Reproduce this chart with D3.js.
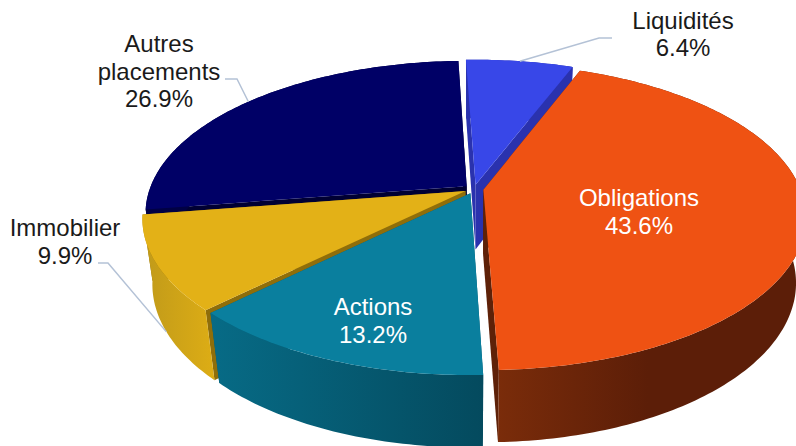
<!DOCTYPE html>
<html lang="fr">
<head>
<meta charset="utf-8">
<script src="https://cdn.jsdelivr.net/npm/d3@7/dist/d3.min.js"></script>
<style>
  html, body { margin: 0; padding: 0; background: #fff; overflow: hidden; }
  svg { display: block; }
  text { font-family: "Liberation Sans", Arial, sans-serif; font-size: 24px; text-anchor: middle; }
</style>
</head>
<body>
<svg id="chart" width="796" height="446"></svg>
<script>
// Portfolio allocation, clockwise from the top of the pie
const categories = ["Liquidités", "Obligations", "Actions", "Immobilier", "Autres placements"];
const shares = [6.4, 43.6, 13.2, 9.9, 26.9];

const categoryLines = [["Liquidités"], ["Obligations"], ["Actions"], ["Immobilier"], ["Autres", "placements"]];
const topColors = ["#3847E8", "#EF5213", "#0A7F9E", "#E3B117", "#000066"];
const faceColors = ["#2A32AE", "#5E2108", "#055A70", "#8F6E0A", "#000033"];
const wallStart = ["#2A32AE", "#7A2C0A", "#076B86", "#C09A1A", "#000044"];
const wallEnd = ["#2A32AE", "#5C1E08", "#044A5E", "#DDAD15", "#000044"];
const textColors = ["#1a1a1a", "#ffffff", "#ffffff", "#1a1a1a", "#1a1a1a"];

// Perspective camera: a unit disc tilted away from the viewer, extruded along Z
const view = { cx: 474, cy: 189, ax: 317, ay: 148.3, persp: 0.176, depth: 67, shrink: 0.03, explode: 0.03 };

function project(x, y, z) {
  const w = 1 - view.persp * y + view.shrink * z;
  return [view.cx + view.ax * x / w, view.cy + (view.ay * y + view.depth * z) / w];
}

// Pie layout starts just left of twelve o'clock and keeps the data order
const startAngle = -2 * Math.PI / 180;
const arcs = d3.pie().sort(null).startAngle(startAngle).endAngle(startAngle + 2 * Math.PI)(shares);

const svg = d3.select("#chart");
const defs = svg.append("defs");
const line = d3.line();

function slicePoint(arc, r, theta, z) {
  const mid = (arc.startAngle + arc.endAngle) / 2;
  const x = view.explode * Math.sin(mid) + r * Math.sin(theta);
  const y = -view.explode * Math.cos(mid) - r * Math.cos(theta);
  return project(x, y, z);
}

function rim(arc, z) {
  const steps = Math.max(8, Math.ceil((arc.endAngle - arc.startAngle) * 60));
  return d3.range(steps + 1).map(i =>
    slicePoint(arc, 1, arc.startAngle + (arc.endAngle - arc.startAngle) * i / steps, z));
}

// Back slices first so the nearer ones overlap them
const paintOrder = [0, 4, 3, 2, 1];

paintOrder.forEach(i => {
  const arc = arcs[i];
  const g = svg.append("g").attr("class", "slice");
  const topRim = rim(arc, 0);
  const baseRim = rim(arc, 1);
  const apexTop = slicePoint(arc, 0, 0, 0);
  const apexBase = slicePoint(arc, 0, 0, 1);

  // Radial faces
  [[topRim[0], baseRim[0]], [topRim[topRim.length - 1], baseRim[baseRim.length - 1]]].forEach(([a, b]) => {
    g.append("path")
      .attr("d", line([apexTop, a, b, apexBase]) + "Z")
      .attr("fill", faceColors[i]);
  });

  // Outer wall with a horizontal light falloff
  const wallPts = topRim.concat(baseRim.slice().reverse());
  const xExtent = d3.extent(wallPts, p => p[0]);
  const gradId = "wall-" + i;
  const grad = defs.append("linearGradient").attr("id", gradId)
    .attr("gradientUnits", "userSpaceOnUse")
    .attr("x1", xExtent[0]).attr("x2", i === 1 ? xExtent[0] + 150 : xExtent[1])
    .attr("y1", 0).attr("y2", 0);
  grad.append("stop").attr("offset", 0).attr("stop-color", wallStart[i]);
  grad.append("stop").attr("offset", 1).attr("stop-color", wallEnd[i]);
  g.append("path").attr("d", line(wallPts) + "Z").attr("fill", `url(#${gradId})`);

  // Top surface
  g.append("path").attr("d", line([apexTop].concat(topRim)) + "Z").attr("fill", topColors[i]);
});

// Label positions: centre of the first text line, plus the leader elbow for outside labels
const labelLayout = [
  { x: 683, y: 28.5, elbow: [[599, 38], [612, 38]], z: 0 },
  { x: 639, y: 206 },
  { x: 373, y: 315 },
  { x: 65, y: 236, elbow: [[108, 263], [98, 263]], z: 1 },
  { x: 159, y: 52, elbow: [[237, 79], [225, 79]], z: 0 }
];
const lineHeight = 27.5;

arcs.forEach((arc, i) => {
  const spot = labelLayout[i];
  if (spot.elbow) {
    const mid = (arc.startAngle + arc.endAngle) / 2;
    const anchor = slicePoint(arc, 1, mid, spot.z);
    svg.append("path")
      .attr("d", line([anchor].concat(spot.elbow)))
      .attr("fill", "none").attr("stroke", "#B4C2D6").attr("stroke-width", 1.5);
  }
  const rows = categoryLines[i].concat(shares[i].toFixed(1) + "%");
  const text = svg.append("text").attr("fill", textColors[i]);
  rows.forEach((row, k) => {
    text.append("tspan").attr("x", spot.x).attr("y", spot.y + k * lineHeight).text(row);
  });
});
</script>
</body>
</html>
